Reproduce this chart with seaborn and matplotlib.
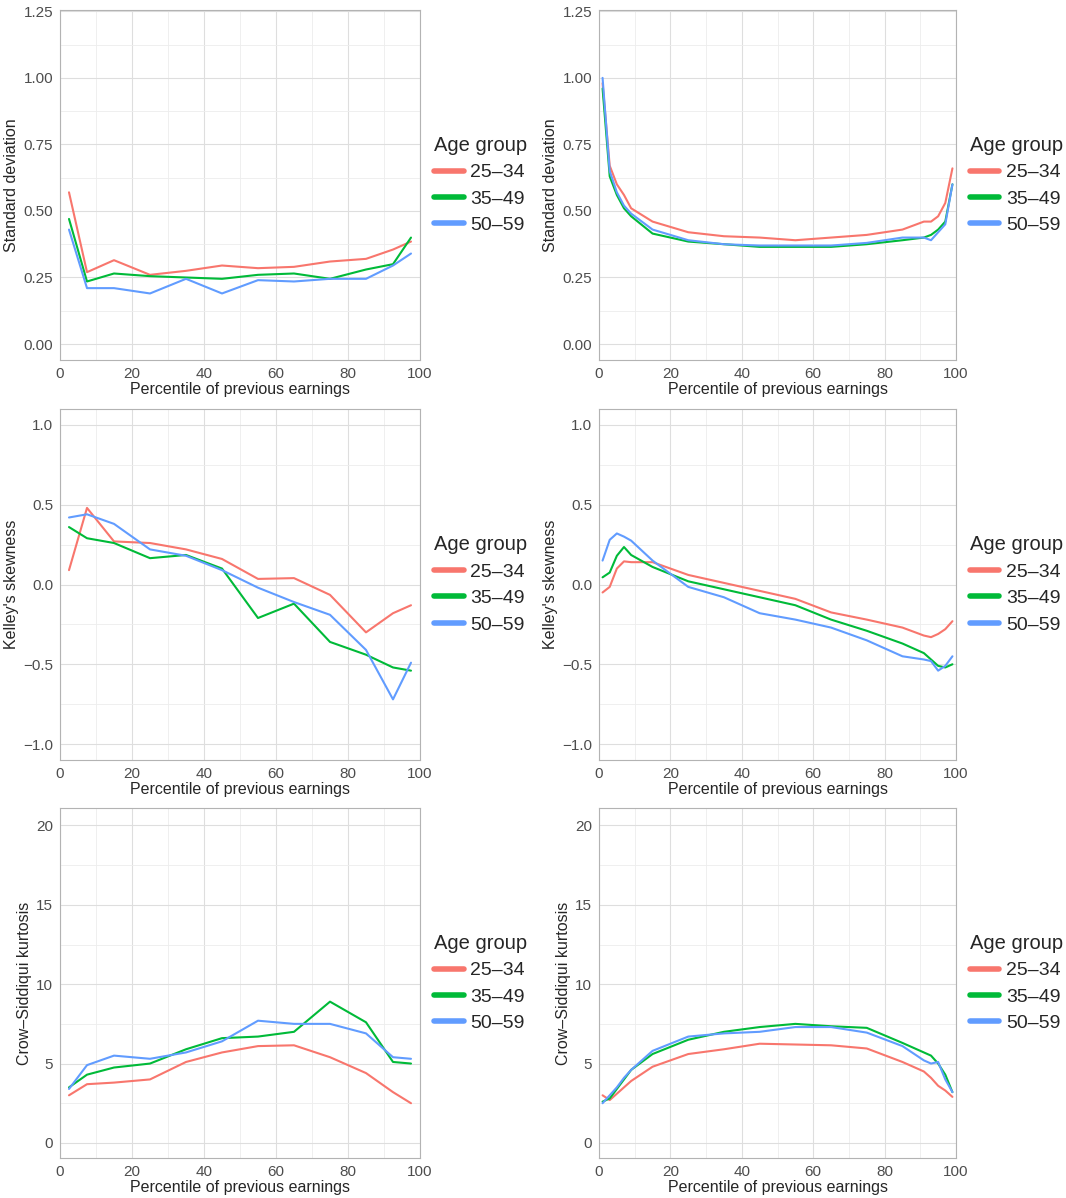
import numpy as np
import pandas as pd
import matplotlib.pyplot as plt
import seaborn as sns
from matplotlib.ticker import MultipleLocator, FuncFormatter

groups = ["25–34", "35–49", "50–59"]
palette = {"25–34": "#F8766D", "35–49": "#00BA38", "50–59": "#619CFF"}

x_left = [2.5, 7.5, 15, 25, 35, 45, 55, 65, 75, 85, 92.5, 97.5]
x_right = [1, 3, 5, 7, 9, 15, 25, 35, 45, 55, 65, 75, 85, 91, 93, 95, 97, 99]

sd_left = {
    "25–34": [.57, .27, .315, .26, .275, .295, .285, .29, .31, .32, .355, .385],
    "35–49": [.47, .235, .265, .255, .25, .245, .26, .265, .245, .28, .3, .4],
    "50–59": [.43, .21, .21, .19, .245, .19, .24, .235, .245, .245, .295, .34],
}
sd_right = {
    "25–34": [.98, .67, .6, .56, .51, .46, .42, .405, .40, .39, .40, .41, .43, .46, .46, .48, .53, .66],
    "35–49": [.96, .63, .56, .51, .48, .415, .385, .375, .365, .365, .365, .375, .39, .40, .41, .43, .46, .60],
    "50–59": [1.0, .65, .57, .52, .49, .43, .39, .375, .37, .37, .37, .38, .40, .40, .39, .42, .45, .60],
}
skew_left = {
    "25–34": [.09, .48, .27, .26, .22, .16, .035, .04, -.065, -.30, -.18, -.13],
    "35–49": [.36, .29, .26, .165, .185, .10, -.21, -.12, -.36, -.44, -.52, -.54],
    "50–59": [.42, .44, .38, .22, .18, .09, -.02, -.11, -.19, -.41, -.72, -.49],
}
skew_right = {
    "25–34": [-.05, -.015, .1, .145, .14, .14, .06, .01, -.04, -.09, -.175, -.22, -.27, -.32, -.33, -.31, -.28, -.23],
    "35–49": [.045, .075, .18, .235, .185, .11, .02, -.03, -.08, -.13, -.22, -.29, -.37, -.43, -.47, -.51, -.52, -.50],
    "50–59": [.15, .28, .32, .30, .275, .15, -.015, -.08, -.18, -.22, -.27, -.35, -.45, -.47, -.48, -.54, -.51, -.45],
}
kurt_left = {
    "25–34": [3.0, 3.7, 3.8, 4.0, 5.1, 5.7, 6.1, 6.15, 5.4, 4.4, 3.2, 2.5],
    "35–49": [3.5, 4.3, 4.75, 5.0, 5.9, 6.6, 6.7, 7.0, 8.9, 7.6, 5.1, 5.0],
    "50–59": [3.4, 4.9, 5.5, 5.3, 5.7, 6.4, 7.7, 7.5, 7.5, 6.9, 5.4, 5.3],
}
kurt_right = {
    "25–34": [3.0, 2.7, 3.1, 3.5, 3.9, 4.8, 5.6, 5.9, 6.25, 6.2, 6.15, 5.95, 5.1, 4.5, 4.1, 3.6, 3.3, 2.9],
    "35–49": [2.6, 2.8, 3.4, 4.0, 4.6, 5.6, 6.5, 7.0, 7.3, 7.5, 7.35, 7.25, 6.3, 5.7, 5.5, 5.0, 4.3, 3.2],
    "50–59": [2.5, 3.0, 3.5, 4.1, 4.6, 5.8, 6.7, 6.9, 7.0, 7.3, 7.3, 6.95, 6.1, 5.2, 5.0, 5.1, 4.0, 3.2],
}


def to_long(x, d):
    rows = []
    for g in groups:
        for xi, yi in zip(x, d[g]):
            rows.append({"pct": xi, "val": yi, "Age group": g})
    return pd.DataFrame(rows)


def minus_fmt(fmt):
    return FuncFormatter(lambda v, p: (fmt % v).replace('-', '\u2212'))


sns.set_style("white")
plt.rcParams['font.family'] = ['Liberation Sans', 'DejaVu Sans']

W, H = 1066, 1198
fig = plt.figure(figsize=(W / 100, H / 100), dpi=100)

col_x = [(60, 420), (599, 956)]
row_y = [(10, 360), (409, 760), (808, 1158)]

rows = [
    ("Standard deviation", sd_left, sd_right, (-0.06, 1.255), 0.25, 0.125, '%.2f'),
    ("Kelley's skewness", skew_left, skew_right, (-1.1, 1.1), 0.5, 0.25, '%.1f'),
    ("Crow–Siddiqui kurtosis", kurt_left, kurt_right, (-0.95, 21.1), 5, 2.5, '%d'),
]

for r, (ylab, dl, dr, ylim, maj, mnr, fmt) in enumerate(rows):
    for c, (x, d) in enumerate([(x_left, dl), (x_right, dr)]):
        x0, x1 = col_x[c]
        y0, y1 = row_y[r]
        ax = fig.add_axes([x0 / W, 1 - y1 / H, (x1 - x0) / W, (y1 - y0) / H])
        sns.lineplot(data=to_long(x, d), x="pct", y="val", hue="Age group",
                     palette=palette, ax=ax, linewidth=1.5)
        ax.set_xlim(0, 100)
        ax.set_ylim(*ylim)
        ax.xaxis.set_major_locator(MultipleLocator(20))
        ax.xaxis.set_minor_locator(MultipleLocator(10))
        ax.yaxis.set_major_locator(MultipleLocator(maj))
        ax.yaxis.set_minor_locator(MultipleLocator(mnr))
        ax.yaxis.set_major_formatter(minus_fmt(fmt))
        ax.grid(which='major', color='#DEDEDE', linewidth=0.8)
        ax.grid(which='minor', color='#EDEDED', linewidth=0.6)
        ax.set_axisbelow(True)
        for s in ax.spines.values():
            s.set_color('#B3B3B3')
            s.set_linewidth(0.8)
        ax.tick_params(axis='both', which='major', colors='#B3B3B3', length=3, pad=2,
                       labelcolor='#4D4D4D', labelsize=11)
        ax.tick_params(which='minor', length=0)
        ax.set_xlabel("Percentile of previous earnings", fontsize=11.5, labelpad=1)
        ax.set_ylabel(ylab, fontsize=11.5, labelpad=3)
        leg = ax.legend(title="Age group", loc='center left', bbox_to_anchor=(1.04, 0.5),
                        frameon=False, fontsize=14, title_fontsize=14.5,
                        borderaxespad=0, borderpad=0,
                        handlelength=1.5, handletextpad=0.35, labelspacing=0.45)
        leg._legend_box.align = "left"
        for h in leg.get_lines():
            h.set_linewidth(4)

plt.savefig("out.png", dpi=100)
